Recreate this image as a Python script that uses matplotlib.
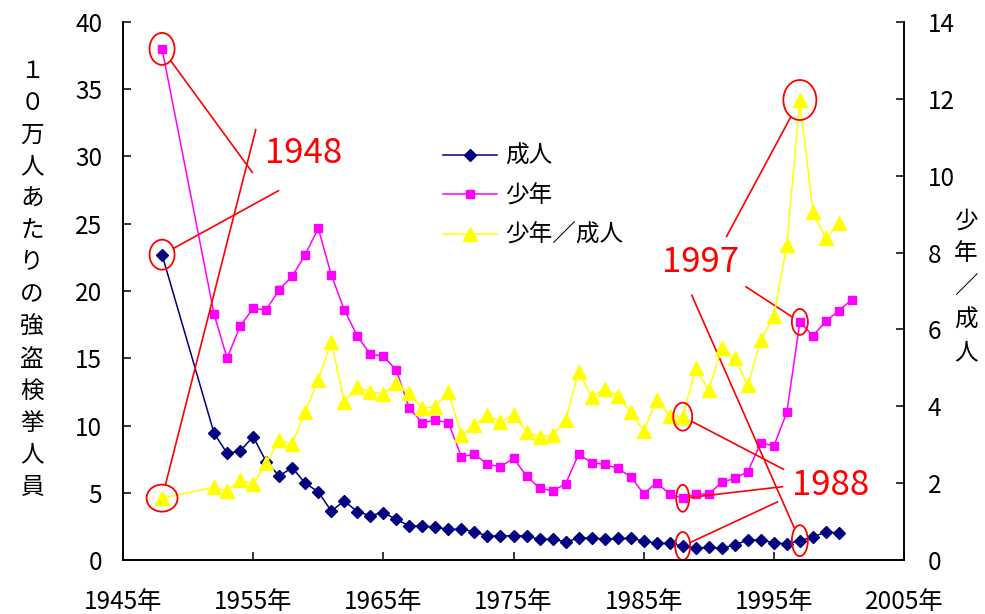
import matplotlib
matplotlib.use("Agg")
import matplotlib.pyplot as plt
from matplotlib.patches import Ellipse

plt.rcParams["font.family"] = ["Noto Sans CJK JP", "DejaVu Sans"]

# robbery arrests per 100,000 population
years_adult = [1948, 1952, 1953, 1954, 1955, 1956, 1957, 1958, 1959, 1960,
               1961, 1962, 1963, 1964, 1965, 1966, 1967, 1968, 1969, 1970,
               1971, 1972, 1973, 1974, 1975, 1976, 1977, 1978, 1979, 1980,
               1981, 1982, 1983, 1984, 1985, 1986, 1987, 1988, 1989, 1990,
               1991, 1992, 1993, 1994, 1995, 1996, 1997, 1998, 1999, 2000]
adult = [22.7, 9.42, 7.93, 8.1, 9.17, 7.31, 6.25, 6.87, 5.7, 5.08,
         3.64, 4.39, 3.59, 3.3, 3.52, 3.02, 2.53, 2.53, 2.43, 2.28,
         2.28, 2.11, 1.78, 1.78, 1.8, 1.78, 1.54, 1.54, 1.36, 1.61,
         1.66, 1.54, 1.6, 1.61, 1.42, 1.24, 1.24, 1.04, 0.87, 0.94,
         0.87, 1.12, 1.49, 1.49, 1.29, 1.19, 1.44, 1.71, 2.08, 2.02]

years_juvenile = years_adult + [2001]
juvenile = [38.0, 18.26, 15.0, 17.4, 18.7, 18.6, 20.1, 21.1, 22.7, 24.66,
            21.2, 18.6, 16.65, 15.3, 15.17, 14.1, 11.28, 10.2, 10.4, 10.2,
            7.68, 7.88, 7.11, 6.94, 7.56, 6.25, 5.33, 5.15, 5.65, 7.86,
            7.24, 7.11, 6.82, 6.2, 4.93, 5.75, 4.9, 4.59, 4.9, 4.9,
            5.78, 6.07, 6.57, 8.72, 8.48, 10.98, 17.7, 16.67, 17.75, 18.55,
            19.35]

# juvenile / adult ratio (right axis)
ratio = [1.61, 1.89, 1.80, 2.08, 1.98, 2.52, 3.12, 3.02, 3.86, 4.68,
         5.68, 4.12, 4.51, 4.38, 4.32, 4.6, 4.34, 3.95, 3.99, 4.38,
         3.25, 3.51, 3.77, 3.6, 3.77, 3.34, 3.21, 3.25, 3.64, 4.9,
         4.25, 4.44, 4.27, 3.86, 3.36, 4.16, 3.75, 3.73, 4.99, 4.42,
         5.51, 5.25, 4.55, 5.72, 6.35, 8.2, 11.97, 9.06, 8.37, 8.76]

x_ticks = [1945, 1955, 1965, 1975, 1985, 1995, 2005]
x_labels = [f"{y}年" for y in x_ticks]
left_ticks = [0, 5, 10, 15, 20, 25, 30, 35, 40]
right_ticks = [0, 2, 4, 6, 8, 10, 12, 14]

label_adult = "成人"
label_juvenile = "少年"
label_ratio = "少年／成人"
left_title = "１０万人あたりの強盗検挙人員"
right_title = "少年／成人"

# highlighted years: (label, label position, line ends near the label)
callouts = [
    ("1948", (1958.9, 30.2),
     [(1955.2, 32.0), (1954.95, 28.8), (1956.95, 27.46)]),
    ("1997", (1989.4, 22.1),
     [(1991.36, 24.04), (1992.85, 20.32), (1988.69, 19.7)]),
    ("1988", (1999.4, 5.54),
     [(1995.75, 6.74), (1995.67, 5.45), (1995.3, 4.33)]),
]
# ellipse sizes in pixels for (ratio, juvenile, adult) markers of each year
ring_px = {
    1948: [(31, 27), (25, 32), (25, 30)],
    1997: [(33, 40), (16, 26), (16, 31)],
    1988: [(19, 28), (13, 27), (15, 28)],
}

W, H = 985, 614
fig = plt.figure(figsize=(W / 100, H / 100), dpi=100)
x0, x1, y0, y1 = 123, 904, 22, 560
ax = fig.add_axes([x0 / W, 1 - y1 / H, (x1 - x0) / W, (y1 - y0) / H])
ax2 = ax.twinx()

RED = "#ff0000"
ax.plot(years_adult, adult, color="#000080", marker="D", ms=6.2, lw=1.1,
        label=label_adult, zorder=3)
ax.plot(years_juvenile, juvenile, color="#ff00ff", marker="s", ms=5.6, lw=1.1,
        label=label_juvenile, zorder=3)
ax2.plot(years_adult, ratio, color="#ffff00", marker="^", ms=9.5, lw=1.1,
         label=label_ratio, zorder=3)

ax.set_xlim(1945, 2005)
ax.set_ylim(0, 40)
ax2.set_ylim(0, 14)
ax.set_xticks(x_ticks)
ax.set_xticklabels(x_labels)
ax.set_yticks(left_ticks)
ax2.set_yticks(right_ticks)

for a in (ax, ax2):
    a.spines["top"].set_visible(False)
    for s in a.spines.values():
        s.set_linewidth(1.2)
    a.tick_params(direction="in", length=6, width=1.1, labelsize=17.5)
ax.tick_params(axis="x", pad=21)
ax.tick_params(axis="y", pad=15)
ax2.tick_params(axis="y", pad=17)
ax.patch.set_visible(False)

# vertical axis titles, one character per line
fig.text(32 / W, 1 - 279 / H, "\n".join(left_title), ha="center", va="center",
         fontsize=17, linespacing=1.5)
fig.text(966 / W, 1 - 287 / H, "\n".join(right_title), ha="center", va="center",
         fontsize=17, linespacing=1.56)

# red rings and leader lines
px_x = (x1 - x0) / 60.0
px_left = (y1 - y0) / 40.0
px_right = (y1 - y0) / 14.0
for text, pos, ends in callouts:
    yr = int(text)
    i_a = years_adult.index(yr)
    i_j = years_juvenile.index(yr)
    targets = [(ax2, ratio[i_a], px_right),
               (ax, juvenile[i_j], px_left),
               (ax, adult[i_a], px_left)]
    for (tax, val, py), (w, h), end in zip(targets, ring_px[yr], ends):
        ring = Ellipse((yr, val), w / px_x, h / py, fill=False,
                       edgecolor=RED, lw=1.3, zorder=5)
        tax.add_patch(ring)
        tax.annotate("", xy=(yr, val), xytext=end, textcoords=ax.transData,
                     arrowprops=dict(arrowstyle="-", color=RED, lw=1.2,
                                     patchB=ring, shrinkA=0, shrinkB=0),
                     zorder=5)
    ax.text(pos[0], pos[1], text, color=RED, fontsize=25, ha="center",
            va="center", zorder=6)

h1, l1 = ax.get_legend_handles_labels()
h2, l2 = ax2.get_legend_handles_labels()
ax2.legend(h1 + h2, l1 + l2, loc="upper left", frameon=False,
           bbox_to_anchor=(443 / W, 1 - 145 / H), bbox_transform=fig.transFigure,
           fontsize=17, handlelength=2.3, handletextpad=0.35, labelspacing=0.7,
           borderpad=0, borderaxespad=0)

fig.savefig("out.png", dpi=100)
